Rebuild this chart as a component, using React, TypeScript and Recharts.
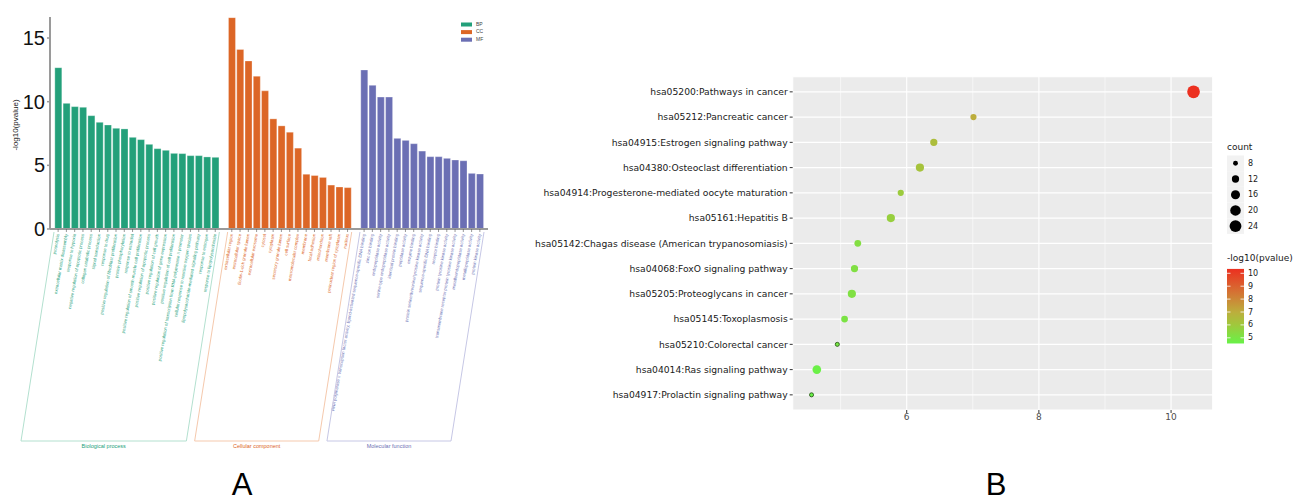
import React from "react"
import {
  Bar,
  BarChart,
  CartesianGrid,
  Cell,
  ReferenceLine,
  Scatter,
  ScatterChart,
  XAxis,
  YAxis,
  ZAxis,
} from "recharts"

// ---------- panel A: GO enrichment ----------
const bpTerms = [
  "proteolysis",
  "extracellular matrix disassembly",
  "response to hypoxia",
  "negative regulation of apoptotic process",
  "collagen catabolic process",
  "signal transduction",
  "response to drug",
  "positive regulation of fibroblast proliferation",
  "protein phosphorylation",
  "response to estradiol",
  "positive regulation of smooth muscle cell proliferation",
  "positive regulation of apoptotic process",
  "positive regulation of cell growth",
  "positive regulation of gene expression",
  "positive regulation of cell proliferation",
  "positive regulation of transcription from RNA polymerase II promoter",
  "cellular response to reactive oxygen species",
  "lipopolysaccharide-mediated signaling pathway",
  "response to estrogen",
  "response to lipopolysaccharide",
]
const bpValues = [12.67, 9.87, 9.61, 9.56, 8.9, 8.38, 8.17, 7.91, 7.86, 7.2, 7.02, 6.65, 6.31, 6.18, 5.94, 5.92, 5.76, 5.76, 5.66, 5.63]

const ccTerms = [
  "extracellular region",
  "extracellular space",
  "ficolin-1-rich granule lumen",
  "extracellular exosome",
  "cytosol",
  "cytoplasm",
  "secretory granule lumen",
  "cell surface",
  "macromolecular complex",
  "membrane",
  "focal adhesion",
  "mitochondrion",
  "membrane raft",
  "perinuclear region of cytoplasm",
  "nucleus",
]
const ccValues = [16.6, 14.1, 13.2, 12.0, 10.85, 8.65, 8.1, 7.6, 6.35, 4.3, 4.2, 4.05, 3.45, 3.3, 3.25]

const mfTerms = [
  "RNA polymerase II transcription factor activity, ligand-activated sequence-specific DNA binding",
  "zinc ion binding",
  "endopeptidase activity",
  "serine-type endopeptidase activity",
  "identical protein binding",
  "peptidase activity",
  "enzyme binding",
  "protein serine/threonine/tyrosine kinase activity",
  "sequence-specific DNA binding",
  "receptor binding",
  "protein tyrosine kinase activity",
  "transmembrane receptor protein tyrosine kinase activity",
  "metalloendopeptidase activity",
  "metallopeptidase activity",
  "protein kinase activity",
]
const mfValues = [12.49, 11.28, 10.36, 10.36, 7.12, 6.96, 6.7, 6.12, 5.68, 5.68, 5.55, 5.42, 5.36, 4.37, 4.32]

const groupNames = ["BP", "CC", "MF"]
const groupTitles = ["Biological process", "Cellular component", "Molecular function"]
const yTicksA = [0, 5, 10, 15]

const groupColors = ["#23a07a", "#dc6626", "#6b6fb4"]
const groupEdges = ["#b3e0cf", "#f5c9ad", "#c6c7e5"]

type GoRow = { key: string; term: string; value: number | null; group: number }

const goData: GoRow[] = []
;[
  [bpTerms, bpValues],
  [ccTerms, ccValues],
  [mfTerms, mfValues],
].forEach(([terms, values], g) => {
  if (g > 0) goData.push({ key: `gap${g}`, term: "", value: null, group: -1 })
  ;(terms as string[]).forEach((t, i) => {
    goData.push({ key: `${groupNames[g]}${i}`, term: t, value: (values as number[])[i], group: g })
  })
})

// band layout of panel A (plot left 50, padding 4 each side)
const A_LEFT = 50
const A_WIDTH = 438
const A_PAD = 4
const bandW = (A_WIDTH - 2 * A_PAD) / goData.length
const bracketTop = 232
const bracketBottom = 441
const bracketShift = 33

function GoTick(props: any) {
  const { x, y, payload } = props
  const d = goData[payload.index]
  if (!d || d.group < 0) return null
  return (
    <g>
      <line x1={x} x2={x} y1={y - 5} y2={y - 2} stroke="#555" strokeWidth={0.6} />
      <text
        x={x}
        y={y}
        dy="0.3em"
        textAnchor="end"
        fontSize={4.3}
        fontFamily="Liberation Sans, Arial, sans-serif"
        fill={groupColors[d.group]}
        transform={`rotate(-80, ${x}, ${y})`}
      >
        {d.term}
      </text>
    </g>
  )
}

function PanelA() {
  const ranges = [0, 1, 2].map((g) => {
    const idx = goData.map((d, i) => (d.group === g ? i : -1)).filter((i) => i >= 0)
    const x0 = A_LEFT + A_PAD + idx[0] * bandW
    const x1 = A_LEFT + A_PAD + (idx[idx.length - 1] + 1) * bandW
    return { x0, x1 }
  })
  return (
    <div style={{ position: "absolute", left: 0, top: 0, width: 500, height: 502 }}>
      <BarChart
        width={500}
        height={460}
        data={goData}
        margin={{ top: 17, right: 12, left: 0, bottom: 0 }}
        barCategoryGap="10%"
      >
        <XAxis
          dataKey="key"
          type="category"
          interval={0}
          height={231}
          padding={{ left: A_PAD, right: A_PAD }}
          axisLine={{ stroke: "#9a9a9a", strokeWidth: 2 }}
          tickLine={false}
          tickSize={3}
          tickMargin={2}
          tick={<GoTick />}
        />
        <YAxis
          type="number"
          domain={[0, 16.65]}
          ticks={yTicksA}
          width={50}
          axisLine={{ stroke: "#9a9a9a", strokeWidth: 2 }}
          tickLine={{ stroke: "#9a9a9a", strokeWidth: 1.5 }}
          tickSize={3}
          tickMargin={2}
          tick={{ fontSize: 20, fill: "#111", fontFamily: "Liberation Sans, Arial, sans-serif" }}
        />
        <Bar dataKey="value" isAnimationActive={false} stroke="#ffffff" strokeOpacity={0.5} strokeWidth={0.6}>
          {goData.map((d) => (
            <Cell key={d.key} fill={d.group >= 0 ? groupColors[d.group] : "none"} />
          ))}
        </Bar>
      </BarChart>
      <svg
        width={500}
        height={502}
        style={{ position: "absolute", left: 0, top: 0, pointerEvents: "none" }}
        fontFamily="Liberation Sans, Arial, sans-serif"
      >
        <text x={16} y={125} fontSize={8} fill="#222" textAnchor="middle" dominantBaseline="middle" transform="rotate(-90, 16, 125)">
          -log10(pvalue)
        </text>
        {ranges.map((r, g) => (
          <g key={g}>
            <polyline
              points={`${r.x0},${bracketTop} ${r.x0 - bracketShift},${bracketBottom} ${r.x1 - bracketShift},${bracketBottom} ${r.x1},${bracketTop}`}
              fill="none"
              stroke={groupEdges[g]}
              strokeWidth={1}
            />
            <text
              x={(r.x0 + r.x1) / 2 - bracketShift}
              y={448}
              fontSize={5.5}
              textAnchor="middle"
              fill={groupColors[g]}
            >
              {groupTitles[g]}
            </text>
          </g>
        ))}
        {groupNames.map((n, g) => (
          <g key={n}>
            <rect x={461} y={22.5 + g * 7.6} width={11} height={4} fill={groupColors[g]} />
            <text x={476} y={24.5 + g * 7.6} fontSize={5} fill="#444" dominantBaseline="middle">
              {n}
            </text>
          </g>
        ))}
        <text x={242} y={495} fontSize={31} textAnchor="middle" fill="#000">
          A
        </text>
      </svg>
    </div>
  )
}

// ---------- panel B: KEGG dot plot ----------
const keggTerms = [
  "hsa05200:Pathways in cancer",
  "hsa05212:Pancreatic cancer",
  "hsa04915:Estrogen signaling pathway",
  "hsa04380:Osteoclast differentiation",
  "hsa04914:Progesterone-mediated oocyte maturation",
  "hsa05161:Hepatitis B",
  "hsa05142:Chagas disease (American trypanosomiasis)",
  "hsa04068:FoxO signaling pathway",
  "hsa05205:Proteoglycans in cancer",
  "hsa05145:Toxoplasmosis",
  "hsa05210:Colorectal cancer",
  "hsa04014:Ras signaling pathway",
  "hsa04917:Prolactin signaling pathway",
]
const keggLogP = [10.34, 7.01, 6.41, 6.2, 5.91, 5.76, 5.26, 5.21, 5.17, 5.06, 4.95, 4.64, 4.56]
const keggCounts = [27, 10, 12, 14, 10, 14, 11, 12, 14, 11, 7, 15, 7]
const xTicksB = [6, 8, 10]
const xMinorB = [5, 7, 9]
const countLegend = [8, 12, 16, 20, 24]
const colorLegend = [5, 6, 7, 8, 9, 10]

const keggData = keggTerms.map((term, i) => ({ idx: i, term, logp: keggLogP[i], count: keggCounts[i] }))

const countDomain = [7, 27]
const areaRange = [13, 127]
const pMin = Math.min(...keggLogP)
const pMax = Math.max(...keggLogP)

const colorStops: [number, number[]][] = [
  [0, [104, 242, 72]],
  [0.25, [160, 200, 60]],
  [0.42, [188, 174, 60]],
  [0.68, [212, 116, 52]],
  [1, [236, 48, 32]],
]

function pColor(v: number) {
  const t = Math.max(0, Math.min(1, (v - pMin) / (pMax - pMin)))
  for (let i = 1; i < colorStops.length; i++) {
    const [t1, c1] = colorStops[i]
    const [t0, c0] = colorStops[i - 1]
    if (t <= t1) {
      const f = (t - t0) / (t1 - t0)
      const c = c0.map((a, k) => Math.round(a + (c1[k] - a) * f))
      return `rgb(${c[0]},${c[1]},${c[2]})`
    }
  }
  return "rgb(236,48,32)"
}

function legendRadius(c: number) {
  const area = areaRange[0] + ((c - countDomain[0]) / (countDomain[1] - countDomain[0])) * (areaRange[1] - areaRange[0])
  return Math.sqrt(area / Math.PI)
}

const barY = (v: number) => 273.3 - (v - 10) * 12.9
const fontB = "DejaVu Sans, Verdana, sans-serif"

function TermTick(props: any) {
  const { x, y, payload } = props
  return (
    <text x={x} y={y} dy="0.35em" textAnchor="end" fontSize={9.2} fill="#1a1a1a" fontFamily={fontB}>
      {keggTerms[payload.value] ?? ""}
    </text>
  )
}

function PanelB() {
  return (
    <>
      <div style={{ position: "absolute", left: 530, top: 60 }}>
        <ScatterChart width={760} height={380} margin={{ top: 16.7, right: 77.3, bottom: 0, left: 0 }}>
          <CartesianGrid fill="#EBEBEB" stroke="#ffffff" strokeWidth={1.1} />
          {xMinorB.map((v) => (
            <ReferenceLine key={v} x={v} stroke="#ffffff" strokeWidth={0.55} />
          ))}
          <XAxis
            type="number"
            dataKey="logp"
            domain={[4.275, 10.63]}
            ticks={xTicksB}
            allowDataOverflow
            height={30}
            axisLine={false}
            tickLine={{ stroke: "#333" }}
            tickSize={3}
            tickMargin={1}
            tick={{ fontSize: 9, fill: "#4d4d4d", fontFamily: fontB }}
          />
          <YAxis
            type="number"
            dataKey="idx"
            domain={[-0.6, 12.6]}
            reversed
            ticks={keggTerms.map((_, i) => i)}
            interval={0}
            width={262.7}
            axisLine={false}
            tickLine={{ stroke: "#333" }}
            tickSize={3}
            tickMargin={2}
            tick={<TermTick />}
          />
          <ZAxis type="number" dataKey="count" domain={countDomain} range={areaRange} />
          <Scatter data={keggData} isAnimationActive={false}>
            {keggData.map((d) => (
              <Cell
                key={d.term}
                fill={pColor(d.logp)}
                stroke={d.count === countDomain[0] ? "#2e5a1c" : "none"}
                strokeWidth={0.9}
              />
            ))}
          </Scatter>
        </ScatterChart>
      </div>
      <svg
        width={1293}
        height={502}
        style={{ position: "absolute", left: 0, top: 0, pointerEvents: "none" }}
        fontFamily={fontB}
      >
        <defs>
          <linearGradient id="pgrad" x1="0" y1="1" x2="0" y2="0">
            {colorStops.map(([t, c]) => (
              <stop key={t} offset={t} stopColor={`rgb(${c[0]},${c[1]},${c[2]})`} />
            ))}
          </linearGradient>
        </defs>
        <text x={1227} y={150} fontSize={9} fill="#1a1a1a">
          count
        </text>
        {countLegend.map((c, i) => {
          const cy = 163.3 + i * 15.7
          return (
            <g key={c}>
              <rect x={1227} y={cy - 7.8} width={17} height={15.6} fill="#F2F2F2" />
              <circle cx={1235.5} cy={cy} r={legendRadius(c)} fill="#000" />
              <text x={1248} y={cy} fontSize={8} fill="#1a1a1a" dominantBaseline="middle">
                {c}
              </text>
            </g>
          )
        })}
        <text x={1227} y={261} fontSize={9} fill="#1a1a1a">
          -log10(pvalue)
        </text>
        <rect x={1227} y={barY(pMax)} width={17} height={barY(pMin) - barY(pMax)} fill="url(#pgrad)" />
        {colorLegend.map((v) => (
          <g key={v}>
            <line x1={1227} x2={1230.5} y1={barY(v)} y2={barY(v)} stroke="#fff" strokeWidth={0.8} />
            <line x1={1240.5} x2={1244} y1={barY(v)} y2={barY(v)} stroke="#fff" strokeWidth={0.8} />
            <text x={1248} y={barY(v)} fontSize={8} fill="#1a1a1a" dominantBaseline="middle">
              {v}
            </text>
          </g>
        ))}
        <text x={996} y={495} fontSize={31} textAnchor="middle" fill="#000" fontFamily="Liberation Sans, Arial, sans-serif">
          B
        </text>
      </svg>
    </>
  )
}

export default function App() {
  return (
    <div
      style={{
        position: "absolute",
        left: 0,
        top: 0,
        width: 1293,
        height: 502,
        background: "#fff",
        overflow: "hidden",
      }}
    >
      <PanelA />
      <PanelB />
    </div>
  )
}
